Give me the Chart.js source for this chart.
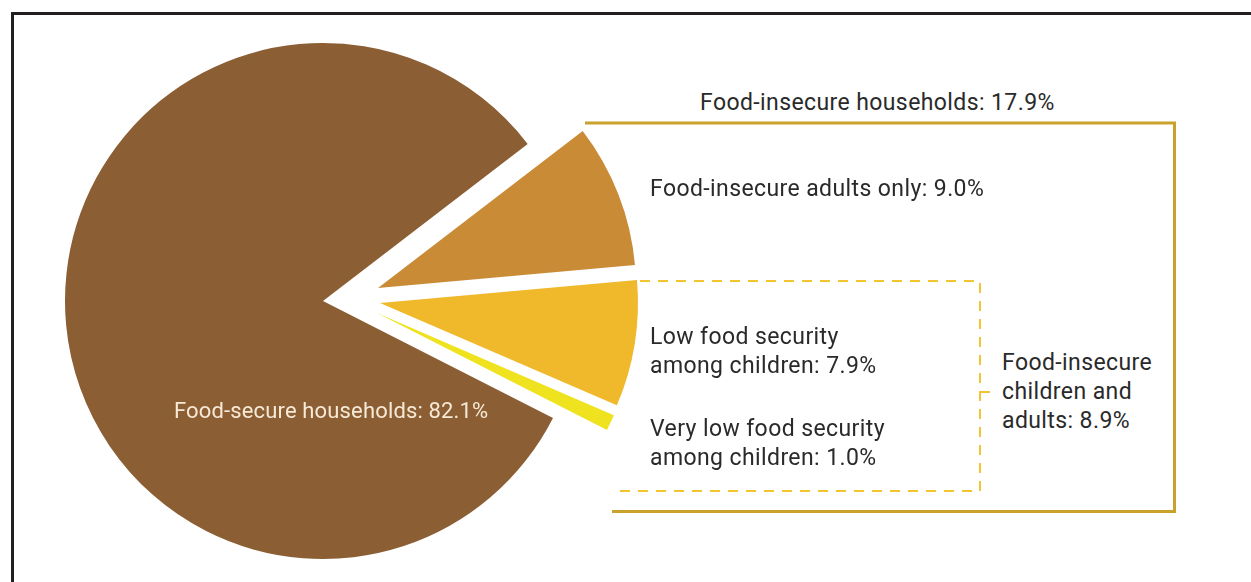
<!DOCTYPE html>
<html>
<head>
<meta charset="utf-8">
<script src="https://cdn.jsdelivr.net/npm/chart.js@4.4.1/dist/chart.umd.min.js"></script>
<style>
  html, body { margin: 0; padding: 0; background: #fff; }
  body { width: 1251px; height: 582px; position: relative; overflow: hidden; font-family: Roboto, 'Noto Sans', sans-serif; }
  .frame { position: absolute; left: 11px; top: 12px; width: 1300px; height: 640px; border-top: 3px solid #231f20; border-left: 3px solid #231f20; }
  .wrap { position: absolute; width: 600px; height: 600px; }
  .lbl { position: absolute; font-size: 23px; letter-spacing: 0.4px; line-height: 29px; color: #2a2a2a; white-space: nowrap; }
  .light { color: #f6e9d6; font-size: 22px; letter-spacing: 0.15px; }
  svg { position: absolute; left: 0; top: 0; }
</style>
</head>
<body>
<div class="frame"></div>

<svg width="1251" height="582">
  <!-- solid bracket: all food-insecure households -->
  <polyline points="585,123 1174.5,123 1174.5,511.5 612,511.5" fill="none" stroke="#c9a22b" stroke-width="3"/>
  <!-- dashed bracket: children and adults -->
  <polyline points="640,281 980,281 980,491 612,491" fill="none" stroke="#f2c530" stroke-width="2" stroke-dasharray="10,8"/>
  <line x1="980" y1="392" x2="990" y2="392" stroke="#f2c530" stroke-width="2"/>
</svg>

<div id="layers"></div>

<div class="lbl" style="left:700px; top:88px">Food-insecure households: 17.9%</div>
<div class="lbl" style="left:650px; top:174px">Food-insecure adults only: 9.0%</div>
<div class="lbl" style="left:650px; top:322px">Low food security<br>among children: 7.9%</div>
<div class="lbl" style="left:650px; top:414px">Very low food security<br>among children: 1.0%</div>
<div class="lbl" style="left:1002px; top:348px">Food-insecure<br>children and<br>adults: 8.9%</div>
<div class="lbl light" style="left:174px; top:396px">Food-secure households: 82.1%</div>

<script>
const labels = ['Food-insecure adults only', 'Low food security among children', 'Very low food security among children', 'Food-secure households']
const shares = [9.0, 7.9, 1.0, 82.1]

const colors = ['#c98b36', '#f0b82b', '#efe21e', '#8b5e34']
// how far each slice is pulled away from the pie (px, right / down)
const shifts = [[55, -13], [57, 2], [54, 12], [0, 0]]

// one pie per slice, only that slice painted, so each can be pulled out on its own
function makeLayer(idx) {
  const wrap = document.createElement('div')
  wrap.className = 'wrap'
  wrap.style.left = (23 + shifts[idx][0]) + 'px'
  wrap.style.top = (1 + shifts[idx][1]) + 'px'
  const canvas = document.createElement('canvas')
  wrap.appendChild(canvas)
  document.getElementById('layers').appendChild(wrap)

  return new Chart(canvas.getContext('2d'), {
    type: 'pie',
    data: {
      labels,
      datasets: [{
        data: shares,
        backgroundColor: shares.map((v, i) => i === idx ? colors[i] : 'rgba(0,0,0,0)'),
        borderWidth: 0
      }]
    },
    options: {
      responsive: true,
      maintainAspectRatio: false,
      animation: false,
      events: [],
      rotation: 52.5,
      radius: 258,
      layout: { padding: 0 },
      plugins: { legend: { display: false }, tooltip: { enabled: false } }
    }
  })
}

shares.forEach((v, i) => makeLayer(i))
</script>
</body>
</html>
